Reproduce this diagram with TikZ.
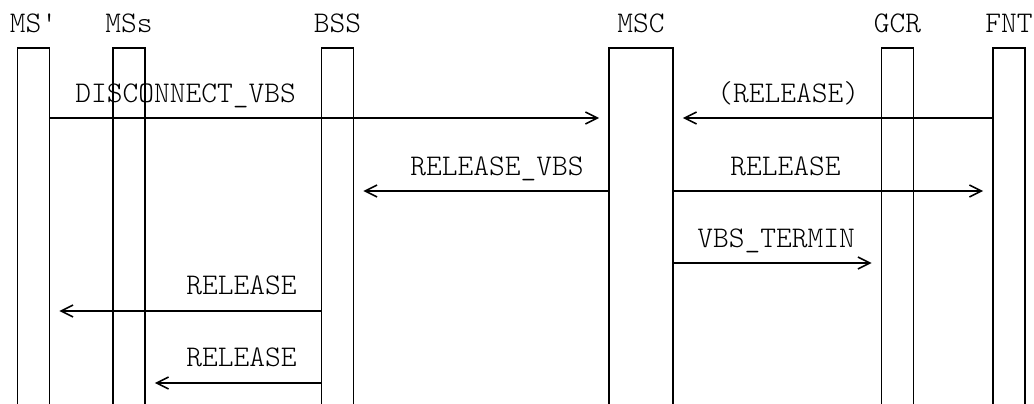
\documentclass[tikz,border=0pt]{standalone}
\usepackage{fontspec}
\setmonofont{Latin Modern Mono Light}
\usetikzlibrary{arrows.meta}
\tikzset{
    entity/.style={draw, line width=0.8pt, anchor=north, minimum width=16pt, minimum height=210pt, inner sep=0pt},
    entname/.style={anchor=base, inner sep=0pt, font=\ttfamily\fontsize{15}{17}\selectfont},
    msg/.style={-{Straight Barb[length=6pt,width=6pt].}, line width=0.8pt, shorten >=4.5pt},
    msgtext/.style={anchor=base west, inner sep=0pt, font=\ttfamily\fontsize{15}{17}\selectfont},
}
\begin{document}
\begin{tikzpicture}[x=0.5pt,y=-0.5pt]
    \useasboundingbox (0,0) rectangle (1034,403);
    \node[entity] (msp) at (33.5,47) {};
    \node[entity] (mss) at (129,47) {};
    \node[entity] (bss) at (337.5,47) {};
    \node[entity, minimum width=32pt] (msc) at (641,47) {};
    \node[entity] (gcr) at (897.5,47) {};
    \node[entity] (fnt) at (1009,47) {};
    \node[entname] (mspname) at ([yshift=7.5pt]msp.north) {MS'};
    \node[entname] (mssname) at ([yshift=7.5pt]mss.north) {MSs};
    \node[entname] (bssname) at ([yshift=7.5pt]bss.north) {BSS};
    \node[entname] (mscname) at ([yshift=7.5pt]msc.north) {MSC};
    \node[entname] (gcrname) at ([yshift=7.5pt]gcr.north) {GCR};
    \node[entname] (fntname) at ([yshift=7.5pt]fnt.north) {FNT};
    \coordinate (r1) at (0,118);
    \coordinate (r2) at (0,191);
    \coordinate (r3) at (0,263);
    \coordinate (r4) at (0,311);
    \coordinate (r5) at (0,383);
    \draw[msg] (msp.east |- r1) -- (msc.west |- r1);
    \draw[msg] (fnt.west |- r1) -- (msc.east |- r1);
    \draw[msg] (msc.west |- r2) -- (bss.east |- r2);
    \draw[msg] (msc.east |- r2) -- (fnt.west |- r2);
    \draw[msg] (msc.east |- r3) -- (gcr.west |- r3);
    \draw[msg] (bss.west |- r4) -- (msp.east |- r4);
    \draw[msg] (bss.west |- r5) -- (mss.east |- r5);
    \node[msgtext] (disc) at (75,102) {DISCONNECT\_VBS};
    \node[msgtext] (relfnt) at (717,102) {(RELEASE)};
    \node[msgtext] (relvbs) at (410,175) {RELEASE\_VBS};
    \node[msgtext] (relmsc) at (730,175) {RELEASE};
    \node[msgtext] (term) at (697,247) {VBS\_TERMIN};
    \node[msgtext] (relms) at (186,294) {RELEASE};
    \node[msgtext] (relmss) at (186,366) {RELEASE};
\end{tikzpicture}
\end{document}
